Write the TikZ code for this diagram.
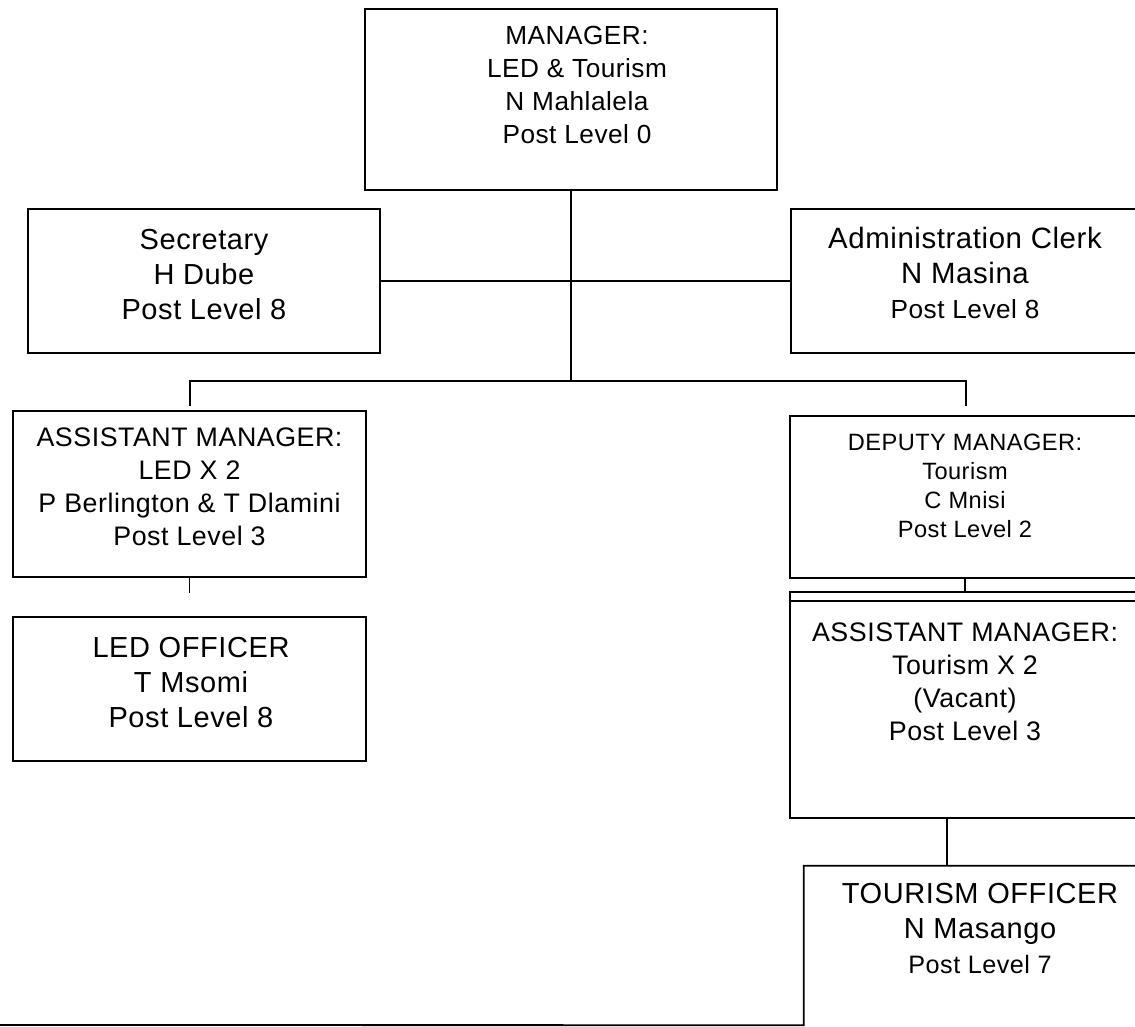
\documentclass[tikz,border=0pt]{standalone}
\usepackage{fontspec}
\setmainfont{Liberation Sans}[LetterSpace=2]
\begin{document}
\begin{tikzpicture}[x=1pt,y=-1pt,
  box/.style={draw=black, line width=1.8pt, inner sep=0pt, rectangle},
  txt/.style={align=center, inner sep=0pt, anchor=north},
  link/.style={draw=black, line width=1.8pt},
  fs/.style 2 args={font={\fontsize{#1}{#2}\selectfont}}]
\useasboundingbox (0,0) rectangle (1135,1027);
\clip (0,0) rectangle (1135,1027);

% boxes
\node[box, minimum width=412pt, minimum height=181pt] (mgr)   at (571,99.5)  {};
\node[box, minimum width=352pt, minimum height=144pt] (sec)   at (204,281)   {};
\node[box, minimum width=349pt, minimum height=144pt] (adm)   at (965.5,281) {};
\node[box, minimum width=353pt, minimum height=166pt] (ledam) at (189.5,494) {};
\node[box, minimum width=353pt, minimum height=144pt] (ledof) at (189.5,689) {};
\node[box, minimum width=350pt, minimum height=162pt] (dep)   at (965,497)   {};
\node[box, minimum width=350pt, minimum height=226pt] (atm)   at (965,705)   {};
\node[inner sep=0pt, minimum width=352pt, minimum height=159pt] (too) at (980,945.5) {};

% texts
\node[txt, fs={26.2}{32.7}] (mgrT) at (577,21.9)
  {\strut MANAGER:\\\strut LED \& Tourism\\\strut N Mahlalela\\\strut Post Level 0};
\node[txt, fs={29}{35}] (secT) at (204,224.5)
  {\strut Secretary\\\strut H Dube\\\strut Post Level 8};
\node[txt, fs={29.4}{35}] (admT) at (965,223.5)
  {\strut Administration Clerk\\\strut N Masina\\\fontsize{26.2}{35}\selectfont\strut Post Level 8};
\node[txt, fs={26.8}{32.7}] (ledamT) at (189.5,423.9)
  {\strut ASSISTANT MANAGER:\\\strut LED X 2\\\strut P Berlington \& T Dlamini\\\strut Post Level 3};
\node[txt, fs={29}{35}] (ledofT) at (191,632.5)
  {\strut LED OFFICER\\\strut T Msomi\\\strut Post Level 8};
\node[txt, fs={23.6}{29}] (depT) at (965,429.7)
  {\strut DEPUTY MANAGER:\\\strut Tourism\\\strut C Mnisi\\\strut Post Level 2};
\node[txt, fs={26.8}{33}] (atmT) at (965,617.9)
  {\strut ASSISTANT MANAGER:\\\strut Tourism X 2\\\strut (Vacant)\\\strut Post Level 3};
\node[txt, fs={29}{35}] (tooT) at (980,878.5)
  {\strut TOURISM OFFICER\\\strut N Masango\\\fontsize{25.2}{35}\selectfont\strut Post Level 7};

% connector points
\coordinate (hub)     at (571,381);
\coordinate (lend)    at (190,406);
\coordinate (rend)    at (966,406);
\coordinate (ledstub) at (189.5,593);
\coordinate (tx)      at (947,0);
\coordinate (foot)    at (0,1025);

% connectors
\draw[link] (mgr.south) -- (hub);
\draw[link] (sec.east) -- (adm.west);
\draw[link] (lend) |- (hub) -| (rend);
\draw[link] (ledam.south) -- (ledstub);
\draw[link] (dep.south) -- (atm.north);
\draw[link] ([yshift=-10pt]atm.north west) -- ([yshift=-10pt]atm.north east);
\draw[link] (atm.south -| tx) -- (too.north -| tx);
\draw[link] (foot) -- (too.south west) -- (too.north west) -- (too.north east);
\end{tikzpicture}
\end{document}
